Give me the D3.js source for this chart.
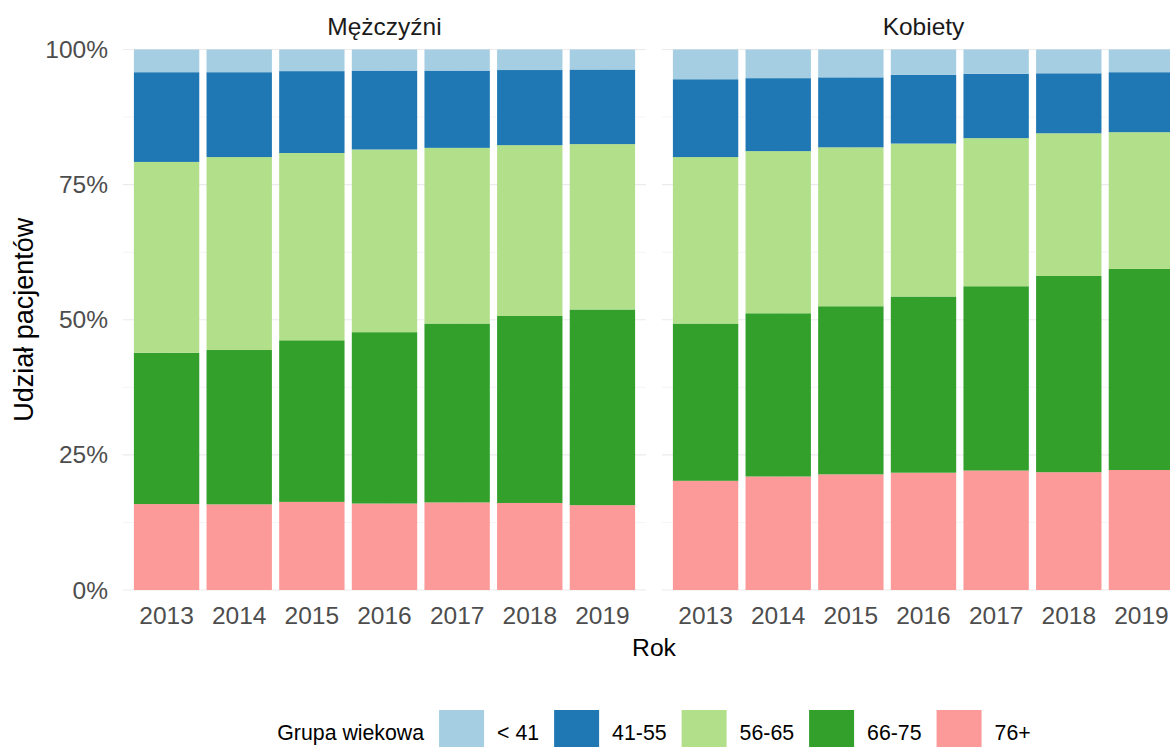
<html>
<head>
<script src="https://cdnjs.cloudflare.com/ajax/libs/d3/7.8.5/d3.min.js"></script>
<style>
  body { margin: 0; background: #fff; }
  svg { font-family: "Liberation Sans", Arial, sans-serif; }
  .grid line { stroke: #ebebeb; }
  .tick-label { fill: #4d4d4d; font-size: 24.5px; }
</style>
</head>
<body>
<svg width="1170" height="747"></svg>
<script>
// values (percent of patients)
var years = ["2013", "2014", "2015", "2016", "2017", "2018", "2019"];
var groups = ["< 41", "41-55", "56-65", "66-75", "76+"];
var colors = ["#a6cee3", "#1f78b4", "#b2df8a", "#33a02c", "#fb9a99"];
var panels = ["Mężczyźni", "Kobiety"];
var yTicks = [0, 25, 50, 75, 100];

var men_lt41 = [4.2, 4.2, 4.0, 3.9, 3.9, 3.8, 3.7];
var men_41_55 = [16.6, 15.7, 15.15, 14.6, 14.3, 13.9, 13.8];
var men_56_65 = [35.3, 35.7, 34.65, 33.8, 32.5, 31.6, 30.6];
var men_66_75 = [28.0, 28.55, 29.9, 31.7, 33.1, 34.6, 36.2];
var men_76 = [15.9, 15.85, 16.3, 16.0, 16.2, 16.1, 15.7];

var women_lt41 = [5.5, 5.3, 5.15, 4.7, 4.5, 4.4, 4.2];
var women_41_55 = [14.4, 13.5, 12.95, 12.7, 11.9, 11.1, 11.1];
var women_56_65 = [30.8, 30.0, 29.4, 28.3, 27.4, 26.4, 25.3];
var women_66_75 = [29.1, 30.2, 31.1, 32.6, 34.1, 36.3, 37.2];
var women_76 = [20.2, 21.0, 21.4, 21.7, 22.1, 21.8, 22.2];

function rows(lt41, a, b, c, d) {
  return years.map(function(y, i) {
    return { year: y, "< 41": lt41[i], "41-55": a[i], "56-65": b[i], "66-75": c[i], "76+": d[i] };
  });
}
var panelData = [
  rows(men_lt41, men_41_55, men_56_65, men_66_75, men_76),
  rows(women_lt41, women_41_55, women_56_65, women_66_75, women_76)
];

var svg = d3.select("svg");
var plotTop = 49.5, plotBottom = 590;
var panelW = 523, panelX = [123, 662];

var y = d3.scaleLinear().domain([0, 100]).range([plotBottom, plotTop]);
var color = d3.scaleOrdinal().domain(groups).range(colors);
// stack from the bottom: oldest group first
var stack = d3.stack().keys(groups.slice().reverse());

panelData.forEach(function(data, p) {
  var x = d3.scaleBand().domain(years)
    .range([panelX[p], panelX[p] + panelW])
    .paddingInner(0.1).paddingOuter(0.15);
  var g = svg.append("g");

  // grid
  var grid = g.append("g").attr("class", "grid");
  d3.range(0, 101, 12.5).forEach(function(v) {
    grid.append("line")
      .attr("x1", panelX[p]).attr("x2", panelX[p] + panelW)
      .attr("y1", y(v)).attr("y2", y(v))
      .attr("stroke-width", v % 25 === 0 ? 1.1 : 0.55);
  });
  years.forEach(function(yr) {
    grid.append("line")
      .attr("x1", x(yr) + x.bandwidth() / 2).attr("x2", x(yr) + x.bandwidth() / 2)
      .attr("y1", plotTop).attr("y2", plotBottom).attr("stroke-width", 1.1);
  });

  // bars
  g.selectAll("g.layer").data(stack(data)).enter().append("g")
    .attr("class", "layer")
    .attr("fill", function(d) { return color(d.key); })
    .selectAll("rect").data(function(d) { return d; }).enter().append("rect")
    .attr("x", function(d) { return x(d.data.year); })
    .attr("width", x.bandwidth())
    .attr("y", function(d) { return y(d[1]); })
    .attr("height", function(d) { return y(d[0]) - y(d[1]); });

  // x tick labels
  g.selectAll("text.xt").data(years).enter().append("text")
    .attr("class", "tick-label")
    .attr("x", function(d) { return x(d) + x.bandwidth() / 2; })
    .attr("y", 624)
    .attr("text-anchor", "middle")
    .text(function(d) { return d; });

  // strip title
  g.append("text")
    .attr("x", panelX[p] + panelW / 2).attr("y", 35)
    .attr("text-anchor", "middle")
    .attr("fill", "#1a1a1a").attr("font-size", "24.5px")
    .text(panels[p]);
});

// y tick labels
svg.selectAll("text.yt").data(yTicks).enter().append("text")
  .attr("class", "tick-label")
  .attr("x", 108)
  .attr("y", function(d) { return y(d); })
  .attr("dy", "0.35em")
  .attr("text-anchor", "end")
  .text(function(d) { return d + "%"; });

// axis titles
svg.append("text")
  .attr("x", (panelX[0] + panelX[1] + panelW) / 2).attr("y", 656)
  .attr("text-anchor", "middle").attr("font-size", "24.7px")
  .text("Rok");
svg.append("text")
  .attr("transform", "translate(33," + (plotBottom + plotTop) / 2 + ") rotate(-90)")
  .attr("text-anchor", "middle").attr("font-size", "27px")
  .text("Udział pacjentów");

// legend
var leg = svg.append("g");
var keySize = 45, keyTop = 710, cy = keyTop + keySize / 2;
var cx = 0;
var title = leg.append("text")
  .attr("x", cx).attr("y", cy).attr("dy", "0.35em")
  .attr("font-size", "21.3px")
  .text("Grupa wiekowa");
cx += title.node().getComputedTextLength() + 15;
groups.forEach(function(gr) {
  leg.append("rect")
    .attr("x", cx).attr("y", keyTop)
    .attr("width", keySize).attr("height", keySize)
    .attr("fill", color(gr));
  cx += keySize + 13;
  var t = leg.append("text")
    .attr("x", cx).attr("y", cy).attr("dy", "0.35em")
    .attr("font-size", "21.3px")
    .text(gr);
  cx += t.node().getComputedTextLength() + 15;
});
cx -= 15;
leg.attr("transform", "translate(" + (654 - cx / 2) + ",0)");
</script>
</body>
</html>
